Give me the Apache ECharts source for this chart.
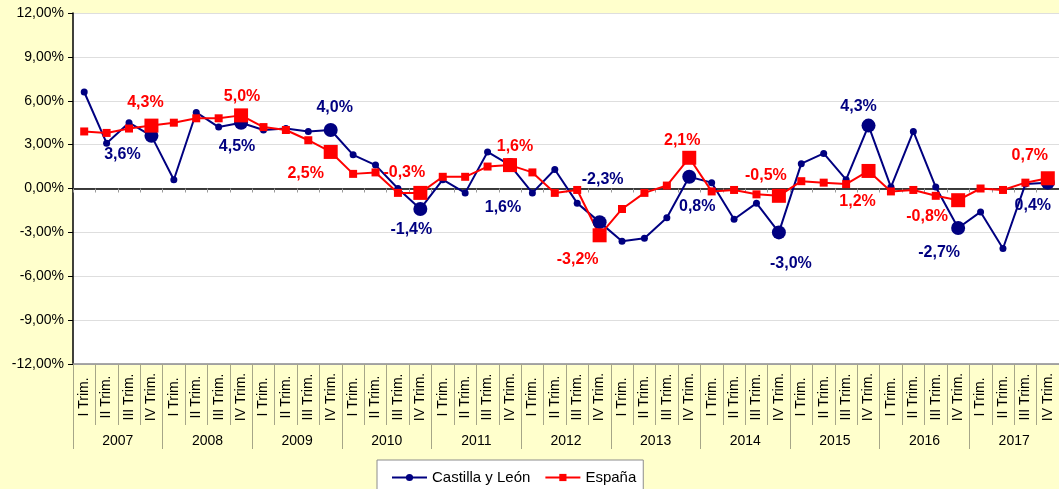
<!DOCTYPE html>
<html>
<head>
<meta charset="utf-8">
<script src="https://cdn.jsdelivr.net/npm/echarts@6/dist/echarts.min.js"></script>
<style>
  html, body { margin: 0; padding: 0; background: #FFFFCC; }
  #chart { width: 1059px; height: 489px; }
</style>
</head>
<body>
<div id="chart"></div>
<script type="text/javascript">
// datos
var years = ['2007','2008','2009','2010','2011','2012','2013','2014','2015','2016','2017'];
var trims = ['I Trim.','II Trim.','III Trim.','IV Trim.'];
var castilla = [6.6, 3.1, 4.5, 3.6,  0.6, 5.2, 4.2, 4.5,  4.0, 4.1, 3.9, 4.0,
                2.3, 1.6, 0.0, -1.4, 0.6, -0.3, 2.5, 1.6, -0.3, 1.3, -1.0, -2.3,
                -3.6, -3.4, -2.0, 0.8, 0.4, -2.1, -1.0, -3.0, 1.7, 2.4, 0.6, 4.3,
                0.1, 3.9, 0.1, -2.7, -1.6, -4.1, 0.3, 0.4];
var espana = [3.9, 3.8, 4.1, 4.3,  4.5, 4.8, 4.8, 5.0,  4.2, 4.0, 3.3, 2.5,
              1.0, 1.1, -0.3, -0.3, 0.8, 0.8, 1.5, 1.6, 1.1, -0.3, -0.1, -3.2,
              -1.4, -0.3, 0.2, 2.1, -0.2, -0.1, -0.4, -0.5, 0.5, 0.4, 0.3, 1.2,
              -0.2, -0.1, -0.5, -0.8, 0.0, -0.1, 0.4, 0.7];

// posicion de las etiquetas (IV Trim.) respecto al punto
var offCastilla = [[-29,19],[-4,24],[4,-22],[-9,21],[-7,42],[3,-43],[8,30],[12,31],[-10,-19],[-19,25],[-15,23]];
var offEspana = [[-6,-23],[1,-19],[-25,22],[-16,-20],[5,-19],[-22,24],[-7,-17],[-13,-20],[-11,31],[-31,16],[-18,-23]];

var quarters = [];
years.forEach(function () { trims.forEach(function (t) { quarters.push(t); }); });

function fmt(v) { return v.toFixed(1).replace('.', ',') + '%'; }

function buildData(vals, offs, color) {
  return vals.map(function (v, i) {
    if (i % 4 !== 3) return v;
    return {
      value: v,
      label: {
        show: true, position: 'inside', offset: offs[(i / 4) | 0],
        formatter: function (p) { return fmt(p.value); },
        color: color, fontSize: 16, fontWeight: 'bold',
        fontFamily: 'Liberation Sans, Arial', textBorderWidth: 0
      }
    };
  });
}

var sepColor = '#a6a688';
var myChart = echarts.init(document.getElementById('chart'));
var option = {
  backgroundColor: '#FFFFCC',
  animation: false,
  textStyle: { fontFamily: 'Liberation Sans, Arial' },
  grid: { left: 73, top: 13, width: 990, height: 351, show: true, backgroundColor: '#ffffff', borderWidth: 0 },
  legend: {
    left: 377, top: 460,
    padding: [10, 7, 12, 14],
    itemGap: 14, itemWidth: 35, itemHeight: 9,
    backgroundColor: '#ffffff', borderColor: '#8c8c8c', borderWidth: 1, borderRadius: 0,
    textStyle: { fontSize: 15, color: '#000' },
    data: ['Castilla y León', 'España']
  },
  xAxis: [
    {
      type: 'category', data: quarters, boundaryGap: true,
      axisLine: { onZero: true, lineStyle: { color: '#000', width: 1.5 } },
      axisTick: { show: true, interval: 0, length: 4, lineStyle: { color: '#999' } },
      axisLabel: { show: false }, splitLine: { show: false }
    },
    {
      type: 'category', data: quarters, boundaryGap: true, position: 'bottom',
      axisLine: { onZero: false, lineStyle: { color: '#8c8c8c', width: 1.5 } },
      axisTick: { show: true, interval: 0, length: 61, lineStyle: { color: sepColor } },
      axisLabel: { interval: 0, rotate: 90, align: 'center', margin: 33, fontSize: 14, color: '#000' },
      splitLine: { show: false }
    },
    {
      type: 'category', data: years, boundaryGap: true, position: 'bottom',
      axisLine: { show: false, onZero: false },
      axisTick: { show: true, interval: 0, length: 85, lineStyle: { color: sepColor } },
      axisLabel: { interval: 0, margin: 70, fontSize: 14, color: '#000' },
      splitLine: { show: false }
    }
  ],
  yAxis: {
    type: 'value', min: -12, max: 12, interval: 3,
    axisLine: { show: true, lineStyle: { color: '#000', width: 1.5 } },
    axisTick: { show: true, length: 5, lineStyle: { color: '#000' } },
    axisLabel: { fontSize: 14, color: '#000', margin: 9, formatter: function (v) { return v.toFixed(2).replace('.', ',') + '%'; } },
    splitLine: { lineStyle: { color: '#dedede' } }
  },
  series: [
    {
      name: 'Castilla y León', type: 'line', xAxisIndex: 0,
      data: buildData(castilla, offCastilla, '#000080'),
      symbol: 'circle',
      symbolSize: function (v, p) { return p.dataIndex % 4 === 3 ? 14 : 7; },
      lineStyle: { color: '#000080', width: 2 },
      itemStyle: { color: '#000080' }
    },
    {
      name: 'España', type: 'line', xAxisIndex: 0,
      data: buildData(espana, offEspana, '#ff0000'),
      symbol: 'rect',
      symbolSize: function (v, p) { return p.dataIndex % 4 === 3 ? 14 : 8; },
      lineStyle: { color: '#ff0000', width: 2 },
      itemStyle: { color: '#ff0000' }
    }
  ]
};
myChart.setOption(option);
</script>
</body>
</html>
